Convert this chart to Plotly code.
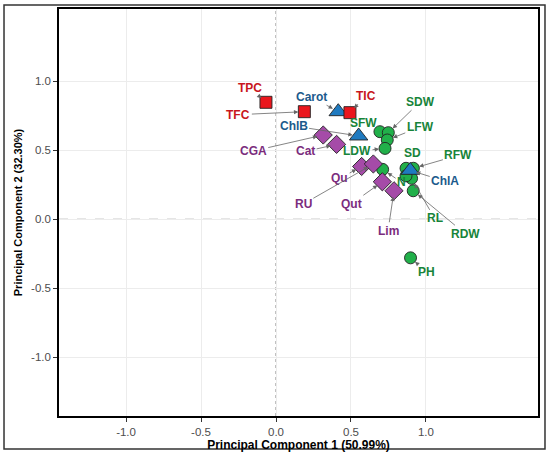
import plotly.graph_objects as go

# PCA loadings
names = ["TPC", "TFC", "TIC",
         "Carot", "ChlB", "ChlA",
         "CGA", "Cat", "Qu", "RU", "Qut", "Lim",
         "SFW", "SDW", "LFW", "LDW", "N", "SD", "RFW", "RL", "RDW", "PH", ""]
pc1 = [-0.067, 0.189, 0.493,
       0.415, 0.551, 0.895,
       0.315, 0.404, 0.571, 0.649, 0.709, 0.787,
       0.693, 0.749, 0.742, 0.727, 0.711, 0.867, 0.916, 0.904, 0.915, 0.897, 0.867]
pc2 = [0.848, 0.780, 0.773,
       0.780, 0.604, 0.355,
       0.611, 0.543, 0.383, 0.401, 0.272, 0.207,
       0.635, 0.628, 0.575, 0.514, 0.362, 0.370, 0.370, 0.297, 0.207, -0.279, 0.315]
groups = ["phenol"] * 3 + ["pigment"] * 3 + ["flav"] * 6 + ["growth"] * 11

# drawing order and look of each group
styles = {
    "growth":  dict(symbol="circle", size=12, fill="#21B04A", text="#17843A"),
    "flav":    dict(symbol="diamond", size=14, fill="#A54BA8", text="#7B2C7D"),
    "pigment": dict(symbol="triangle-up", size=16, fill="#1F7AC0", text="#1C5A8C"),
    "phenol":  dict(symbol="square", size=12, fill="#EA161D", text="#C8161D"),
}

# label offsets in pixels (repel-style placement)
label_offsets = {
    "TPC": (-16, -14), "TFC": (-66, 3), "TIC": (16, -17),
    "Carot": (-27, -15), "ChlB": (-65, -10), "ChlA": (35, 11),
    "CGA": (-70, 16), "Cat": (-31, 7), "Qu": (-22, 12), "RU": (-70, 40),
    "Qut": (-31, 22), "Lim": (-6, 40),
    "SFW": (-16, -9), "SDW": (32, -31), "LFW": (33, -13), "LDW": (-28, 3),
    "N": (19, 13), "SD": (6, -15), "RFW": (45, -13), "RL": (23, 40),
    "RDW": (52, 43), "PH": (16, 14),
}

fig = go.Figure()

for g, st in styles.items():
    idx = [i for i, gg in enumerate(groups) if gg == g]
    fig.add_trace(go.Scatter(
        x=[pc1[i] for i in idx], y=[pc2[i] for i in idx],
        mode="markers", showlegend=False, hoverinfo="skip",
        marker=dict(symbol=st["symbol"], size=st["size"], color=st["fill"],
                    line=dict(color="#222222", width=0.9)),
    ))

for i, n in enumerate(names):
    if not n:
        continue
    dx, dy = label_offsets[n]
    fig.add_annotation(
        x=pc1[i], y=pc2[i], ax=dx, ay=dy, text=n,
        showarrow=True, arrowhead=2, arrowsize=1.1, arrowwidth=0.8,
        arrowcolor="#666666", standoff=6, startstandoff=0,
        font=dict(family="Liberation Sans, Arial, sans-serif", size=12,
                  color=styles[groups[i]]["text"], weight="bold"),
    )

fig.add_hline(y=0, line=dict(color="#999999", width=1.2, dash="dash"), layer="below")
fig.add_vline(x=0, line=dict(color="#999999", width=1.2, dash="3px,3px"), layer="below")

# outer frame around the whole figure
fig.add_shape(type="rect", xref="paper", yref="paper",
              x0=-0.1148, x1=1.0146, y0=-0.0811, y1=1.0098,
              line=dict(color="#333333", width=1.5))

axis_common = dict(
    showgrid=True, gridcolor="#ECECEC", gridwidth=1, zeroline=False,
    showline=True, mirror=True, linecolor="black", linewidth=1.6,
    ticks="outside", ticklen=4, tickcolor="#333333",
    tickvals=[-1, -0.5, 0, 0.5, 1], ticktext=["-1.0", "-0.5", "0.0", "0.5", "1.0"],
    tickfont=dict(family="Liberation Sans, Arial, sans-serif", size=11.5, color="#4D4D4D"),
    automargin=False,
)

fig.update_xaxes(range=[-1.447, 1.747], **axis_common,
                 title=dict(text="<b>Principal Component 1 (50.99%)</b>", standoff=3,
                            font=dict(family="Liberation Sans, Arial, sans-serif", size=12, color="black")))
fig.update_yaxes(range=[-1.425, 1.524], **axis_common,
                 title=dict(text="<b>Principal Component 2 (32.30%)</b>", standoff=6,
                            font=dict(family="Liberation Sans Narrow, Arial Narrow, Liberation Sans, sans-serif",
                                      size=11, color="black")))

fig.update_layout(
    width=550, height=453,
    margin=dict(l=59, r=12, t=9, b=37),
    paper_bgcolor="white", plot_bgcolor="white",
)

# drop the browser's default page margin so the figure sits at the window corner
fig.write_html("out.html", config={"displayModeBar": False},
               post_script="document.body.style.margin='0';")
